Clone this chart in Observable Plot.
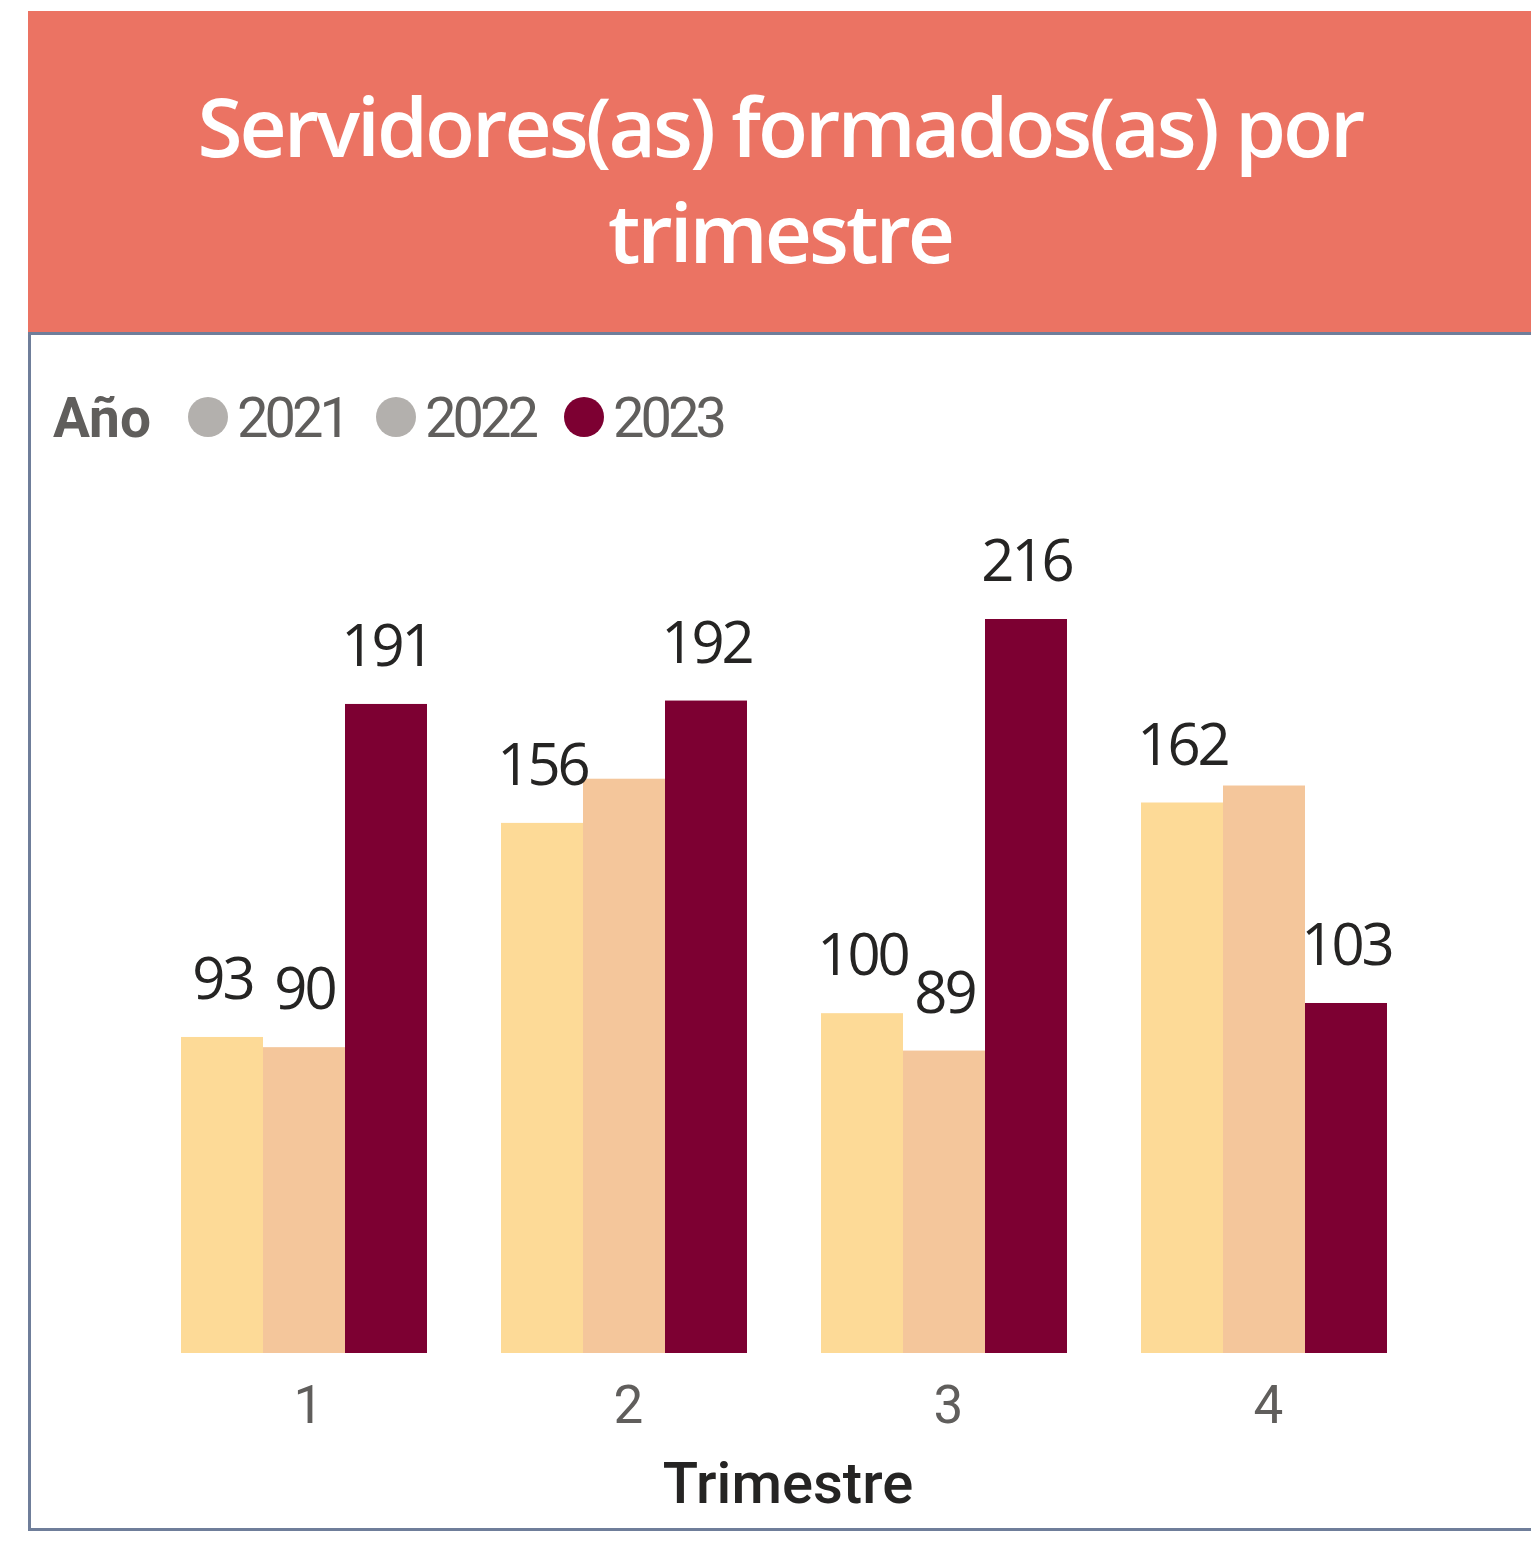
<!DOCTYPE html>
<html>
<head>
<meta charset="utf-8">
<script src="https://cdn.jsdelivr.net/npm/d3@7"></script>
<script src="https://cdn.jsdelivr.net/npm/@observablehq/plot@0.6"></script>
<style>
  body { margin: 0; background: #fff; }
  #wrap { position: relative; width: 1531px; height: 1542px; overflow: hidden; background: #fff; }
  #header { position: absolute; left: 28px; top: 11px; width: 1504px; height: 321px; background: #EB7363; }
  #title { position: absolute; left: 28px; top: 72px; width: 1504px; text-align: center; color: #fff;
           font-family: "Open Sans", "Noto Sans", sans-serif; font-weight: 600; font-size: 82px; line-height: 106px;
           letter-spacing: -3px; }
  #legend { position: absolute; left: 0; top: 370px; }
  #chart { position: absolute; left: 0; top: 470px; }
  #xtitle { position: absolute; left: 588px; width: 400px; top: 1454px; text-align: center;
            font-family: Roboto, sans-serif; font-weight: 500; font-size: 58px; line-height: 58px; color: #252423; }
  #panel { position: absolute; left: 28px; top: 332px; width: 1530px; height: 1199px; box-sizing: border-box;
           border: 3px solid #6F7E9A; background: none; }
</style>
</head>
<body>
<div id="wrap">
  <div id="header"></div>
  <div id="title">Servidores(as) formados(as) por<br>trimestre</div>
  <div id="legend"></div>
  <div id="chart"></div>
  <div id="xtitle">Trimestre</div>
  <div id="panel"></div>
</div>
<script>
// ---- data ----
const quarters = ["1", "2", "3", "4"];
const years = ["2021", "2022", "2023"];
const values2021 = [93, 156, 100, 162];
const values2022 = [90, 169, 89, 167];
const values2023 = [191, 192, 216, 103];
// data labels not displayed in the original (hidden by overlap)
const hiddenLabels = [["2", "2022"], ["4", "2022"]];
const barColors = ["#FDDA97", "#F4C69B", "#7D0032"];
const legendSwatches = ["#B3B0AD", "#B3B0AD", "#7D0032"];
const legendTitle = "Año";

const series = [values2021, values2022, values2023];
const data = [];
quarters.forEach((q, qi) => {
  years.forEach((y, yi) => {
    const hidden = hiddenLabels.some(([hq, hy]) => hq === q && hy === y);
    data.push({quarter: q, year: y, value: series[yi][qi], show: !hidden});
  });
});

// ---- legend ----
const leg = d3.select("#legend").append("svg").attr("width", 800).attr("height", 90)
  .style("overflow", "visible");
leg.append("text").attr("x", 53).attr("y", 67).text(legendTitle)
  .attr("font-family", "Roboto, sans-serif").attr("font-weight", 700).attr("font-size", 55).attr("fill", "#605E5C");
years.forEach((y, i) => {
  const cx = 208 + i * 188;
  leg.append("circle").attr("cx", cx).attr("cy", 47).attr("r", 20).attr("fill", legendSwatches[i]);
  leg.append("text").attr("x", cx + 29).attr("y", 67).text(y)
    .attr("font-family", "Roboto, sans-serif").attr("font-size", 56).attr("letter-spacing", -4)
    .attr("fill", "#605E5C");
});

// ---- chart ----
const chart = Plot.plot({
  width: 1531,
  height: 1055,
  marginLeft: 180,
  marginRight: 144,
  marginTop: 149,
  marginBottom: 172,
  style: {background: "transparent", overflow: "visible"},
  fx: {domain: quarters, paddingInner: 0.2325, paddingOuter: 0, label: null},
  x: {domain: years, padding: 0, axis: null},
  y: {domain: [0, 216], axis: null},
  color: {domain: years, range: barColors},
  marks: [
    Plot.barY(data, {fx: "quarter", x: "year", y: "value", fill: "year"}),
    Plot.text(data.filter(d => d.show), {
      fx: "quarter", x: "year", y: "value", text: d => String(d.value),
      dy: -57, fontSize: 58, fill: "#252423", fontFamily: "'Open Sans', sans-serif"
    }),
    Plot.axisFx({anchor: "bottom", tickSize: 0, tickPadding: 32, fontSize: 53, dx: 4,
      fontFamily: "Roboto, sans-serif", color: "#605E5C", label: null})
  ]
});
document.getElementById("chart").appendChild(chart);
d3.select(chart).selectAll("g[aria-label='text'] text").attr("letter-spacing", -3);
</script>
</body>
</html>
